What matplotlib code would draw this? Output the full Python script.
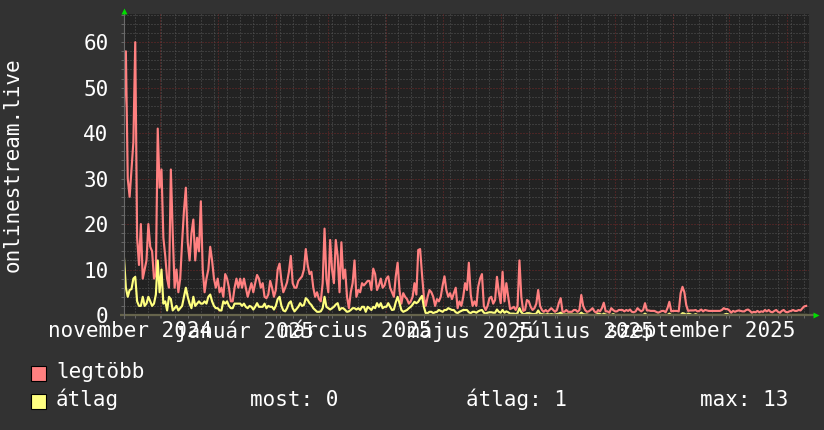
import matplotlib
matplotlib.use('Agg')
import matplotlib.pyplot as plt
from matplotlib.patches import Rectangle
import numpy as np
import pandas as pd

plt.rcParams['font.family'] = ['DejaVu Sans Mono', 'DejaVu Sans']

# napi adatok, 2024-11-12-tol egy even at (leolvasva a kepről)
legtobb = [46, 58, 30, 26, 32, 38, 60, 17, 11, 20, 8, 10, 12, 20, 15, 14, 8,
           9, 41, 28, 32, 17, 13, 8, 6, 32, 18, 6, 10, 5, 8, 16, 23, 28, 16, 12, 18,
           21, 12, 17, 14, 25, 10, 5, 8, 10, 15, 12, 8, 6, 8, 5, 6, 4, 9, 8, 6,
           3, 3, 6, 8, 6, 8,
           6, 8, 6, 4, 5.5, 7, 5, 7, 8.8, 8, 6, 7, 4, 3.7, 4.5, 7.5, 6, 4, 5.5, 10,
           11.3, 7.5, 5, 6, 7.2, 9.5, 13, 7, 6, 6, 7.5, 8, 8.5, 10, 14.5, 11, 9, 9.5, 6, 4,
           5, 3.5, 3, 7, 19, 8, 5, 16.5, 10, 7, 16.5, 13, 5, 16, 8, 10, 4, 1.5, 5, 7,
           12, 4,
           5.5, 5, 7, 6.5, 7, 7.5, 7.5, 5.5, 10.2, 9, 5.5, 6.5, 8, 6, 6.5, 8, 8.5, 6, 5, 4,
           8.5, 11.5, 5.5, 2.5, 4.8, 4, 3.5, 2.5, 3, 4, 7, 4.5, 14.3, 14.5, 9, 4, 2, 4, 5.5, 5,
           4, 2, 3.5, 3, 4, 6.5, 8.5, 5.5, 4, 4.8, 3.5, 4.8, 6, 1.5, 3, 2, 4, 7, 5.5, 11.5,
           4.5, 2,
           3, 2, 6.2, 8, 9, 2, 1.1, 2, 3.7, 4, 2.5, 3.3, 8.4, 5, 2.6, 9.5, 3, 7, 4, 1.3,
           1.5, 1.8, 1.1, 2, 12, 4, 0.9, 1.1, 3.3, 3, 1.8, 1.1, 1.5, 2.5, 5.5, 2, 1.1, 0.7, 1.1, 0.7,
           1.1, 1.5, 1.1, 0.7, 1.1, 2.6, 3.7, 0.7, 0.7, 1.1, 0.7, 0.7, 0.7, 1.1, 1.1, 0.7, 1.1, 4.4, 2, 1.1,
           0.7,
           0.8, 1.1, 1.5, 0.8, 0.5, 1.1, 0.8, 1.5, 2.7, 0.8, 0.8, 0.5, 1.5, 1.1, 0.8, 0.8, 1.1, 1.1, 1.1, 0.8,
           1.1, 0.9, 1.2, 0.7, 0.6, 0.8, 1.5, 1.1, 0.8, 1.1, 2.6, 1.0, 1.0, 0.9, 0.9, 0.9, 0.7, 0.5, 0.7, 0.9,
           0.9, 0.6, 1.5, 2.9, 0.8, 0.9, 0.9, 0.9, 0.8, 4.8, 6.2, 5.0, 2.2, 0.9, 1.0, 1.0, 1.0, 1.1, 0.8, 0.9,
           1.2, 0.8,
           1.1, 1.0, 0.9, 0.9, 0.9, 0.9, 0.9, 0.9, 0.9, 1.1, 1.5, 1.3, 1.3, 1.0, 0.5, 0.9, 0.7, 0.9, 1.0, 0.9,
           0.8, 0.8, 1.1, 1.2, 0.9, 0.5, 0.7, 0.6, 0.9, 0.6, 0.8, 0.7, 1.1, 0.8, 1.1, 0.7, 0.6, 0.9, 1.1, 0.7,
           0.5, 0.9, 1.1, 0.7, 0.6, 0.8, 0.9, 1.1, 0.9, 0.9, 1.1, 1.0, 1.5, 1.9, 2.0]

atlag = [12.5, 6, 4, 5.5, 5.7, 8, 8.4, 3, 2, 2, 4, 2, 2.5, 4, 3, 2, 2.5, 4.5, 12, 5,
         10, 2.5, 3, 1, 4, 3.5, 1, 1.5, 2, 1, 1.5, 2, 4, 6, 4, 2.5, 1.5, 4, 2, 2.5,
         3, 2.5, 2.5, 3, 2.5, 4, 4.5, 3, 2, 1.5, 1.5, 1, 1, 3, 2.5, 3, 2, 1.5, 1.5, 2.5,
         2.5, 2.5, 2.5,
         2, 2.5, 1.8, 1.5, 2, 1.8, 1.2, 1.8, 2.6, 1.8, 1.8, 1.8, 2.5, 1.5, 2, 1.8, 1.8, 1.2, 2, 3.5,
         4, 2, 1, 0.8, 1.5, 2.6, 3, 1.5, 0.8, 1.3, 1.8, 2.6, 2, 2.2, 3.7, 3.3, 2.6, 2.2, 1.5, 1.1,
         0.7, 0.7, 0.8, 1.5, 4, 1.8, 1.5, 1.2, 1.5, 1.8, 2.3, 2.6, 1.1, 1.5, 1.5, 1.1, 0.7, 0.8, 1.1, 1.5,
         1.5, 1.2,
         1.5, 1.1, 1.8, 1.8, 0.7, 1.8, 1.5, 1.1, 1.8, 1.5, 2.6, 1.8, 2.6, 1.5, 1.8, 1.8, 2.6, 1.8, 1.1, 1.2,
         2.8, 4, 2.6, 1.1, 0.7, 0.9, 1.1, 1.5, 1.8, 2.3, 2.9, 2.6, 2.9, 3.6, 4.2, 1.8, 0.4, 0.4, 0.7, 0.7,
         0.4, 0.6, 0.7, 1.1, 0.9, 0.7, 1.1, 1.1, 1.5, 1.3, 1.1, 1.1, 0.6, 0.4, 0.7, 0.9, 1.1, 1.1, 1.1, 0.6,
         0.4, 0.7,
         0.7, 0.5, 0.8, 1.0, 1.1, 0.5, 0.3, 0.5, 0.6, 0.6, 0.5, 0.5, 1.2, 0.7, 0.5, 1.1, 0.5, 0.8, 0.6, 0.3,
         0.3, 0.3, 0.2, 0.4, 1.5, 0.6, 0.2, 0.2, 0.4, 0.4, 0.3, 0.2, 0.2, 0.3, 1.0, 0.3, 0.2, 0.1, 0.1, 0.2,
         0.1, 0.2, 0.1, 0.1, 0.2, 0.3, 0.5, 0.1, 0.1, 0.1, 0.1, 0.1, 0.1, 0.1, 0.1, 0.1, 0.1, 0.5, 0.2, 0.1,
         0.1,
         0, 0, 0, 0, 0, 0.3, 0.2, 0, 0.3, 0.1, 0, 0, 0, 0.2, 0,
         0, 0, 0, 0, 0, 0, 0, 0, 0, 0, 0, 0, 0, 0, 0,
         0.3, 0, 0, 0, 0, 0, 0, 0, 0, 0, 0, 0, 0,
         0.3, 0, 0, 0, 0, 0, 0,
         0.4, 0.3, 0, 0.3, 0.2, 0, 0, 0.2, 0, 0, 0, 0,
         0, 0, 0, 0, 0, 0, 0, 0, 0, 0, 0, 0.2, 0.2, 0, 0, 0, 0, 0, 0, 0,
         0, 0, 0, 0, 0, 0, 0, 0, 0, 0, 0, 0, 0, 0, 0, 0, 0, 0, 0, 0,
         0, 0, 0, 0, 0, 0, 0, 0, 0, 0, 0, 0, 0, 0, 0]

honapok = ['november 2024', 'január 2025', 'március 2025', 'május 2025',
           'július 2025', 'szeptember 2025']
honap_datum = ['2024-11-16', '2025-01-16', '2025-03-16', '2025-05-16',
               '2025-07-16', '2025-09-16']

stat_most = 0
stat_atlag = 1
stat_max = 13

piros = '#ff8080'
sarga = '#ffff80'
szoveg = '#ffffff'

start = pd.Timestamp('2024-11-12 12:00')
end = start + pd.Timedelta(days=365.5)
napok = pd.date_range(start, periods=len(legtobb), freq='D')

fig = plt.figure(figsize=(8.24, 4.30), dpi=100, facecolor='#323232')
ax = fig.add_axes([124 / 824, 1 - 315 / 430, 685 / 824, 301 / 430])
ax.set_facecolor('#222222')
ax.set_xlim(start, end)
ax.set_ylim(0, 66.2)

# racs (pontozott, mint az rrdtool-nal)
hetek = pd.date_range(start, end, freq='W-MON')
honap_elsok = pd.date_range(start, end, freq='MS')
dots = (0, (1, 2))
for d in hetek:
    ax.axvline(d, color='#575757', lw=0.72, ls=dots, zorder=1)
for d in honap_elsok:
    ax.axvline(d, color='#742828', lw=0.72, ls=dots, zorder=1.1)
for v in np.arange(2, 67, 2):
    if v % 10 == 0:
        ax.axhline(v, color='#742828', lw=0.72, ls=dots, zorder=1.1)
    else:
        ax.axhline(v, color='#575757', lw=0.72, ls=dots, zorder=1)

ax.plot(napok, legtobb, color=piros, lw=1.55, zorder=3)
ax.plot(napok, atlag, color=sarga, lw=1.55, zorder=4)

for s in ax.spines.values():
    s.set_visible(False)

ax.set_xticks(list(hetek) + list(honap_elsok), minor=True)
ax.set_xticks(pd.to_datetime(honap_datum), honapok)
ax.set_yticks(range(0, 61, 10))
ax.set_yticks(np.arange(0, 67, 2), minor=True)
ax.tick_params(axis='x', which='major', length=0, pad=4, labelsize=15, labelcolor=szoveg)
ax.tick_params(axis='x', which='minor', length=2.2, width=0.72, color='#666666')
ax.tick_params(axis='y', which='both', length=2.2, width=0.72, color='#666666')
ax.tick_params(axis='y', which='major', pad=9, labelsize=15, labelcolor=szoveg)

# tengelyek es nyilak
ax.plot([-0.006, 1.007], [0, 0], transform=ax.transAxes, color='#66644c',
        lw=1.6, clip_on=False, zorder=6, solid_capstyle='butt')
ax.plot([0, 0], [-0.01, 1.0], transform=ax.transAxes, color='#6a6a6a',
        lw=0.8, clip_on=False, zorder=6)
ax.plot([1.0105], [0], marker='>', ms=5, color='#00dd00', mec='none',
        transform=ax.transAxes, clip_on=False, zorder=7)
ax.plot([0], [1.011], marker='^', ms=5, color='#00dd00', mec='none',
        transform=ax.transAxes, clip_on=False, zorder=7)

fig.text(13 / 824, 1 - 164.5 / 430, 'onlinestream.live', rotation=90,
         ha='center', va='center', size=15, color=szoveg)

# jelmagyarazat
for y0, c in [(366, piros), (394, sarga)]:
    fig.add_artist(Rectangle((31 / 824, 1 - (y0 + 15) / 430), 15 / 824, 15 / 430,
                             transform=fig.transFigure, fc=c, ec='black', lw=0.8))
fig.text(56 / 824, 1 - 378.5 / 430, 'legtöbb', va='baseline', size=15, color=szoveg)
fig.text(56 / 824, 1 - 406.5 / 430, 'átlag', va='baseline', size=15, color=szoveg)
fig.text(250 / 824, 1 - 406.5 / 430, f'most: {stat_most}', va='baseline', size=15, color=szoveg)
fig.text(466 / 824, 1 - 406.5 / 430, f'átlag: {stat_atlag}', va='baseline', size=15, color=szoveg)
fig.text(700 / 824, 1 - 406.5 / 430, f'max: {stat_max}', va='baseline', size=15, color=szoveg)

fig.savefig('out.png', dpi=100, facecolor=fig.get_facecolor())
